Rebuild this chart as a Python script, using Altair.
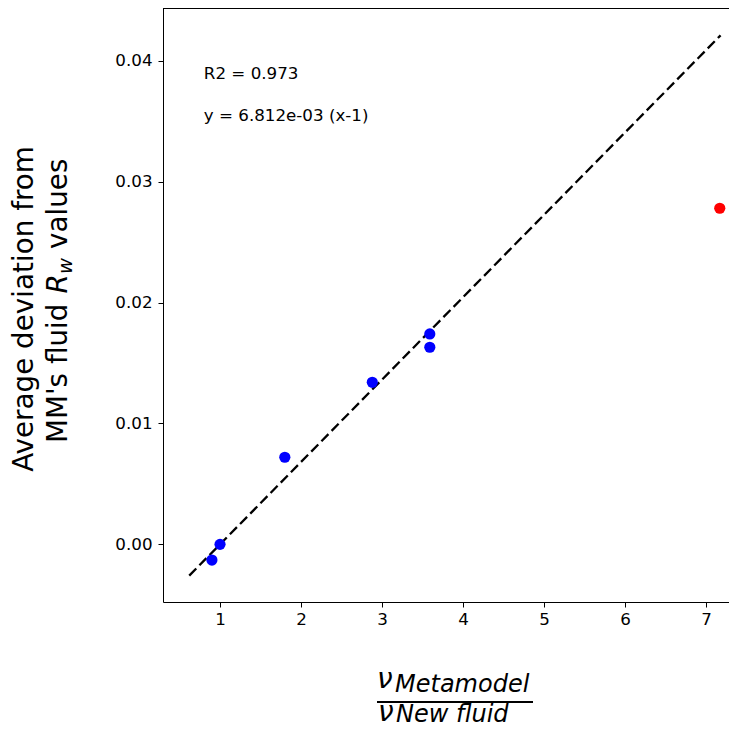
import altair as alt
import pandas as pd

# data
blue_x = [0.9, 1.0, 1.8, 2.88, 3.59, 3.59]
blue_y = [-0.0013, 0.0, 0.0072, 0.0134, 0.0174, 0.0163]
red_x = [7.17]
red_y = [0.0278]
fit_x = [0.62, 7.18]
fit_y = [-0.00259, 0.0421]
x_ticks = [1, 2, 3, 4, 5, 6, 7]
y_ticks = [0.0, 0.01, 0.02, 0.03, 0.04]
ann_x = [0.8, 0.8]
ann_y = [0.0389, 0.0354]
ann_text = ["R2 = 0.973", "y = 6.812e-03 (x-1)"]

FONT = "DejaVu Sans"
W, H = 566, 594

xs = alt.Scale(domain=[0.296, 7.284], nice=False, zero=False)
ys = alt.Scale(domain=[-0.00477, 0.04436], nice=False, zero=False)

x_axis = alt.Axis(values=x_ticks, format="d", title=None, grid=False,
                  labelFont=FONT, labelFontSize=16.7, labelColor="black",
                  tickSize=5, tickColor="black", tickWidth=1,
                  domainColor="black", domainWidth=1, labelPadding=4)
y_axis = alt.Axis(values=y_ticks, format=".2f", title=None, grid=False,
                  labelFont=FONT, labelFontSize=16.7, labelColor="black",
                  tickSize=5, tickColor="black", tickWidth=1,
                  domainColor="black", domainWidth=1, labelPadding=6)

blue_df = pd.DataFrame({"x": blue_x, "y": blue_y})
red_df = pd.DataFrame({"x": red_x, "y": red_y})
fit_df = pd.DataFrame({"x": fit_x, "y": fit_y})
ann_df = pd.DataFrame({"x": ann_x, "y": ann_y, "t": ann_text})
one = pd.DataFrame({"a": [0]})

fit = alt.Chart(fit_df).mark_line(color="black", strokeWidth=2.3, strokeDash=[10, 4.5]).encode(
    x=alt.X("x:Q", scale=xs, axis=x_axis),
    y=alt.Y("y:Q", scale=ys, axis=y_axis),
)
blue = alt.Chart(blue_df).mark_circle(size=125, color="#0000ff", opacity=1).encode(
    x=alt.X("x:Q", scale=xs), y=alt.Y("y:Q", scale=ys)
)
red = alt.Chart(red_df).mark_circle(size=125, color="#ff0000", opacity=1).encode(
    x=alt.X("x:Q", scale=xs), y=alt.Y("y:Q", scale=ys)
)
ann = alt.Chart(ann_df).mark_text(align="left", baseline="middle", font=FONT,
                                  fontSize=16.7, color="black").encode(
    x=alt.X("x:Q", scale=xs), y=alt.Y("y:Q", scale=ys), text="t:N"
)

top_spine = alt.Chart(one).mark_rule(color="black", strokeWidth=1).encode(
    x=alt.value(0), x2=alt.value(W), y=alt.value(0.5)
)


def txt(text, x, y, size, italic=False, angle=0, align="left"):
    kw = dict(text=text, font=FONT, fontSize=size, color="black",
              align=align, baseline="alphabetic")
    if italic:
        kw["fontStyle"] = "italic"
    if angle:
        kw["angle"] = angle
    return alt.Chart(one).mark_text(**kw).encode(x=alt.value(x), y=alt.value(y))


YT = 27.8
ytitle = [
    txt("Average deviation from", -130, 301, YT, angle=270, align="center"),
    txt("MM's fluid", -96, 435, YT, angle=270),
    txt("R", -96, 285.6, YT, italic=True, angle=270),
    txt("w", -91, 266, 19.5, italic=True, angle=270),
    txt("values", -96, 241, YT, angle=270),
]

xtitle = [
    txt("ν", 214, 680, 28, italic=True),
    txt("Metamodel", 232, 684, 24, italic=True),
    txt("ν", 215, 713, 28, italic=True),
    txt("New fluid", 233, 714, 24, italic=True),
]
frac = alt.Chart(one).mark_rule(color="black", strokeWidth=2).encode(
    x=alt.value(214), x2=alt.value(370), y=alt.value(694)
)

chart = alt.layer(fit, blue, red, ann, top_spine, frac, *ytitle, *xtitle).properties(
    width=W, height=H,
    autosize=alt.AutoSizeParams(type="none"),
    padding={"left": 155, "top": 0, "right": 0, "bottom": 127},
).configure_view(stroke=None)

chart.save("out.html", embed_options={"renderer": "svg", "actions": False})
